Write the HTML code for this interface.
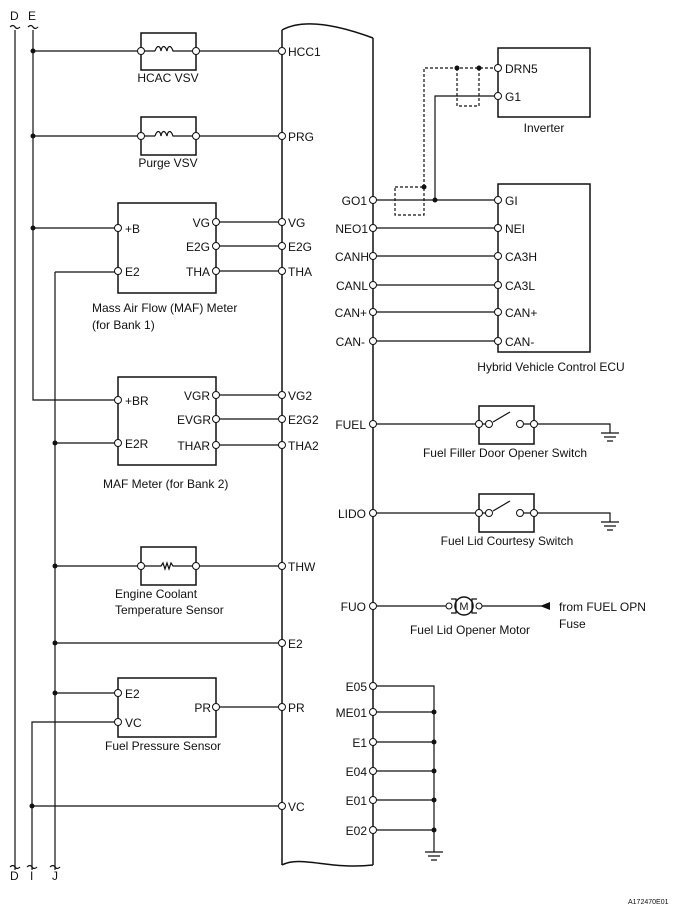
<!DOCTYPE html>
<html><head><meta charset="utf-8"><style>
html,body{margin:0;padding:0;background:#fff}
svg{display:block}
text{font-family:"Liberation Sans",Arial,sans-serif;font-size:12px;fill:#111}
</style></head><body>
<svg width="676" height="915" viewBox="0 0 676 915" xmlns="http://www.w3.org/2000/svg">
<g stroke="#111" stroke-width="1.2" fill="none">
<!-- left buses -->
<path d="M15 30V870M33 30V400H118M55 272V870M32 870V722H118"/>
<path d="M10 27q3-3 5 0t5 0M28 27q3-3 5 0t5 0M10 867q3-3 5 0t5 0M27 867q3-3 5 0t5 0M50 867q3-3 5 0t5 0"/>
<!-- ECU body -->
<path d="M282 30V865M373 38V865M282 30C300 20 330 22 373 38M282 865C300 855 330 870 373 865" stroke-width="1.5"/>
<!-- HCAC -->
<path d="M33 51H141M196 51H282M141 51h14M182 51h14"/>
<rect x="141" y="33" width="55" height="37" stroke-width="1.5"/>
<path d="M155 51c2-6 5-6 6 0c1-6 4-6 6 0c1-6 4-6 6 0h9"/>
<!-- Purge -->
<path d="M33 136H141M196 136H282"/>
<rect x="141" y="117" width="55" height="38" stroke-width="1.5"/>
<path d="M141 136h14M155 136c2-6 5-6 6 0c1-6 4-6 6 0c1-6 4-6 6 0h23"/>
<!-- MAF1 -->
<rect x="118" y="203" width="98" height="90" stroke-width="1.5"/>
<path d="M33 228H118M216 222H282M216 246H282M216 271H282M55 272H118"/>
<!-- MAF2 -->
<rect x="118" y="377" width="98" height="88" stroke-width="1.5"/>
<path d="M216 395H282M216 419H282M216 445H282M55 443H118"/>
<!-- ECT -->
<rect x="141" y="547" width="55" height="38" stroke-width="1.5"/>
<path d="M55 566H141M196 566H282M141 566h20l2-3 2 6 2-6 2 6 2-6 2 3h23"/>
<path d="M55 643H282"/>
<!-- Fuel pressure -->
<rect x="118" y="678" width="98" height="59" stroke-width="1.5"/>
<path d="M55 693H118M216 707H282M32 806H282"/>
<!-- right side -->
<rect x="498" y="48" width="92" height="69" stroke-width="1.5"/>
<rect x="498" y="184" width="92" height="168" stroke-width="1.5"/>
<path d="M373 200H498M373 228H498M373 256H498M373 285H498M373 312H498M373 341H498"/>
<path d="M498 96H435V200"/>
<g stroke-dasharray="3,2"><path d="M498 68H424V187M395 187h29v28h-29zM457 68v38h22V68"/></g>
<!-- switches -->
<path d="M373 424H479M534 424H610V433M601 433h18M604 437h12M607 441h6"/>
<rect x="479" y="406" width="55" height="38" stroke-width="1.5"/>
<path d="M479 424h7M493 422l17-10M524 424h10"/>
<path d="M373 513H479M534 513H610V522M601 522h18M604 526h12M607 530h6"/>
<rect x="479" y="494" width="55" height="38" stroke-width="1.5"/>
<path d="M479 513h7M493 511l17-10M524 513h10"/>
<!-- motor -->
<path d="M373 606H447M481 606H548"/>
<circle cx="464" cy="606" r="9" stroke-width="1.5"/>
<path d="M451 599h5v14h-5M477 599h-5v14h5"/>
<!-- grounds -->
<path d="M373 686H434V852M373 712H434M373 742H434M373 771H434M373 800H434M373 830H434M425 852h18M428 856h12M431 860h6"/>
</g>
<polygon points="540,606 550,602 550,610" fill="#111"/>
<g fill="#111">
<circle cx="33" cy="51" r="2.5"/><circle cx="33" cy="136" r="2.5"/><circle cx="33" cy="228" r="2.5"/>
<circle cx="55" cy="443" r="2.5"/><circle cx="55" cy="566" r="2.5"/><circle cx="55" cy="643" r="2.5"/><circle cx="55" cy="693" r="2.5"/><circle cx="32" cy="806" r="2.5"/>
<circle cx="424" cy="187" r="2.5"/><circle cx="435" cy="200" r="2.5"/><circle cx="457" cy="68" r="2.5"/><circle cx="479" cy="68" r="2.5"/>
<circle cx="434" cy="712" r="2.5"/><circle cx="434" cy="742" r="2.5"/><circle cx="434" cy="771" r="2.5"/><circle cx="434" cy="800" r="2.5"/><circle cx="434" cy="830" r="2.5"/>
</g>
<g fill="#fff" stroke="#111" stroke-width="1">
<circle cx="282" cy="51" r="3.5"/><circle cx="282" cy="136" r="3.5"/><circle cx="282" cy="222" r="3.5"/><circle cx="282" cy="246" r="3.5"/><circle cx="282" cy="271" r="3.5"/><circle cx="282" cy="395" r="3.5"/><circle cx="282" cy="419" r="3.5"/><circle cx="282" cy="445" r="3.5"/><circle cx="282" cy="566" r="3.5"/><circle cx="282" cy="643" r="3.5"/><circle cx="282" cy="707" r="3.5"/><circle cx="282" cy="806" r="3.5"/>
<circle cx="141" cy="51" r="3.5"/><circle cx="196" cy="51" r="3.5"/><circle cx="141" cy="136" r="3.5"/><circle cx="196" cy="136" r="3.5"/><circle cx="141" cy="566" r="3.5"/><circle cx="196" cy="566" r="3.5"/>
<circle cx="118" cy="228" r="3.5"/><circle cx="118" cy="271" r="3.5"/><circle cx="216" cy="222" r="3.5"/><circle cx="216" cy="246" r="3.5"/><circle cx="216" cy="271" r="3.5"/>
<circle cx="118" cy="400" r="3.5"/><circle cx="118" cy="443" r="3.5"/><circle cx="216" cy="395" r="3.5"/><circle cx="216" cy="419" r="3.5"/><circle cx="216" cy="445" r="3.5"/>
<circle cx="118" cy="693" r="3.5"/><circle cx="118" cy="722" r="3.5"/><circle cx="216" cy="707" r="3.5"/>
<circle cx="373" cy="200" r="3.5"/><circle cx="373" cy="228" r="3.5"/><circle cx="373" cy="256" r="3.5"/><circle cx="373" cy="285" r="3.5"/><circle cx="373" cy="312" r="3.5"/><circle cx="373" cy="341" r="3.5"/>
<circle cx="498" cy="68" r="3.5"/><circle cx="498" cy="96" r="3.5"/><circle cx="498" cy="200" r="3.5"/><circle cx="498" cy="228" r="3.5"/><circle cx="498" cy="256" r="3.5"/><circle cx="498" cy="285" r="3.5"/><circle cx="498" cy="312" r="3.5"/><circle cx="498" cy="341" r="3.5"/>
<circle cx="373" cy="424" r="3.5"/><circle cx="479" cy="424" r="3.5"/><circle cx="489" cy="424" r="3.5"/><circle cx="520" cy="424" r="3.5"/><circle cx="534" cy="424" r="3.5"/>
<circle cx="373" cy="513" r="3.5"/><circle cx="479" cy="513" r="3.5"/><circle cx="489" cy="513" r="3.5"/><circle cx="520" cy="513" r="3.5"/><circle cx="534" cy="513" r="3.5"/>
<circle cx="373" cy="606" r="3.5"/><circle cx="449" cy="606" r="3"/><circle cx="479" cy="606" r="3"/>
<circle cx="373" cy="686" r="3.5"/><circle cx="373" cy="712" r="3.5"/><circle cx="373" cy="742" r="3.5"/><circle cx="373" cy="771" r="3.5"/><circle cx="373" cy="800" r="3.5"/><circle cx="373" cy="830" r="3.5"/>
</g>
<text x="10" y="20">D</text><text x="28" y="20">E</text>
<text x="10" y="880">D</text><text x="30" y="880">I</text><text x="52" y="880">J</text>
<g>
<text x="288" y="56">HCC1</text><text x="288" y="141">PRG</text><text x="288" y="227">VG</text><text x="288" y="251">E2G</text><text x="288" y="276">THA</text>
<text x="288" y="400">VG2</text><text x="288" y="424">E2G2</text><text x="288" y="450">THA2</text><text x="288" y="571">THW</text><text x="288" y="648">E2</text><text x="288" y="712">PR</text><text x="288" y="811">VC</text>
<text x="125" y="233">+B</text><text x="125" y="276">E2</text>
<text x="210" y="227" text-anchor="end">VG</text><text x="210" y="251" text-anchor="end">E2G</text><text x="210" y="276" text-anchor="end">THA</text>
<text x="125" y="405">+BR</text><text x="125" y="448">E2R</text>
<text x="210" y="400" text-anchor="end">VGR</text><text x="211" y="424" text-anchor="end">EVGR</text><text x="210" y="450" text-anchor="end">THAR</text>
<text x="125" y="698">E2</text><text x="125" y="727">VC</text><text x="211" y="712" text-anchor="end">PR</text>
<text x="168" y="82" text-anchor="middle">HCAC VSV</text>
<text x="168" y="167" text-anchor="middle">Purge VSV</text>
<text x="92" y="312">Mass Air Flow (MAF) Meter</text><text x="92" y="329">(for Bank 1)</text>
<text x="103" y="488">MAF Meter (for Bank 2)</text>
<text x="115" y="598">Engine Coolant</text><text x="115" y="614">Temperature Sensor</text>
<text x="105" y="750">Fuel Pressure Sensor</text>
<text x="367" y="205" text-anchor="end">GO1</text><text x="368" y="233" text-anchor="end">NEO1</text><text x="369" y="261" text-anchor="end">CANH</text><text x="368" y="290" text-anchor="end">CANL</text><text x="367" y="317" text-anchor="end">CAN+</text><text x="365" y="346" text-anchor="end">CAN-</text>
<text x="505" y="73">DRN5</text><text x="505" y="101">G1</text><text x="544" y="132" text-anchor="middle">Inverter</text>
<text x="505" y="205">GI</text><text x="505" y="233">NEI</text><text x="505" y="261">CA3H</text><text x="505" y="290">CA3L</text><text x="505" y="317">CAN+</text><text x="505" y="346">CAN-</text>
<text x="551" y="371" text-anchor="middle">Hybrid Vehicle Control ECU</text>
<text x="366" y="429" text-anchor="end">FUEL</text><text x="366" y="518" text-anchor="end">LIDO</text><text x="366" y="611" text-anchor="end">FUO</text>
<text x="505" y="457" text-anchor="middle">Fuel Filler Door Opener Switch</text>
<text x="507" y="545" text-anchor="middle">Fuel Lid Courtesy Switch</text>
<text x="470" y="634" text-anchor="middle">Fuel Lid Opener Motor</text>
<text x="464" y="610" text-anchor="middle" style="font-size:11px">M</text>
<text x="559" y="611">from FUEL OPN</text><text x="559" y="628">Fuse</text>
<text x="367" y="691" text-anchor="end">E05</text><text x="367" y="717" text-anchor="end">ME01</text><text x="367" y="747" text-anchor="end">E1</text><text x="367" y="776" text-anchor="end">E04</text><text x="367" y="805" text-anchor="end">E01</text><text x="367" y="835" text-anchor="end">E02</text>
<text x="628" y="904" style="font-size:7px">A172470E01</text>
</g>
</svg>
</body></html>
